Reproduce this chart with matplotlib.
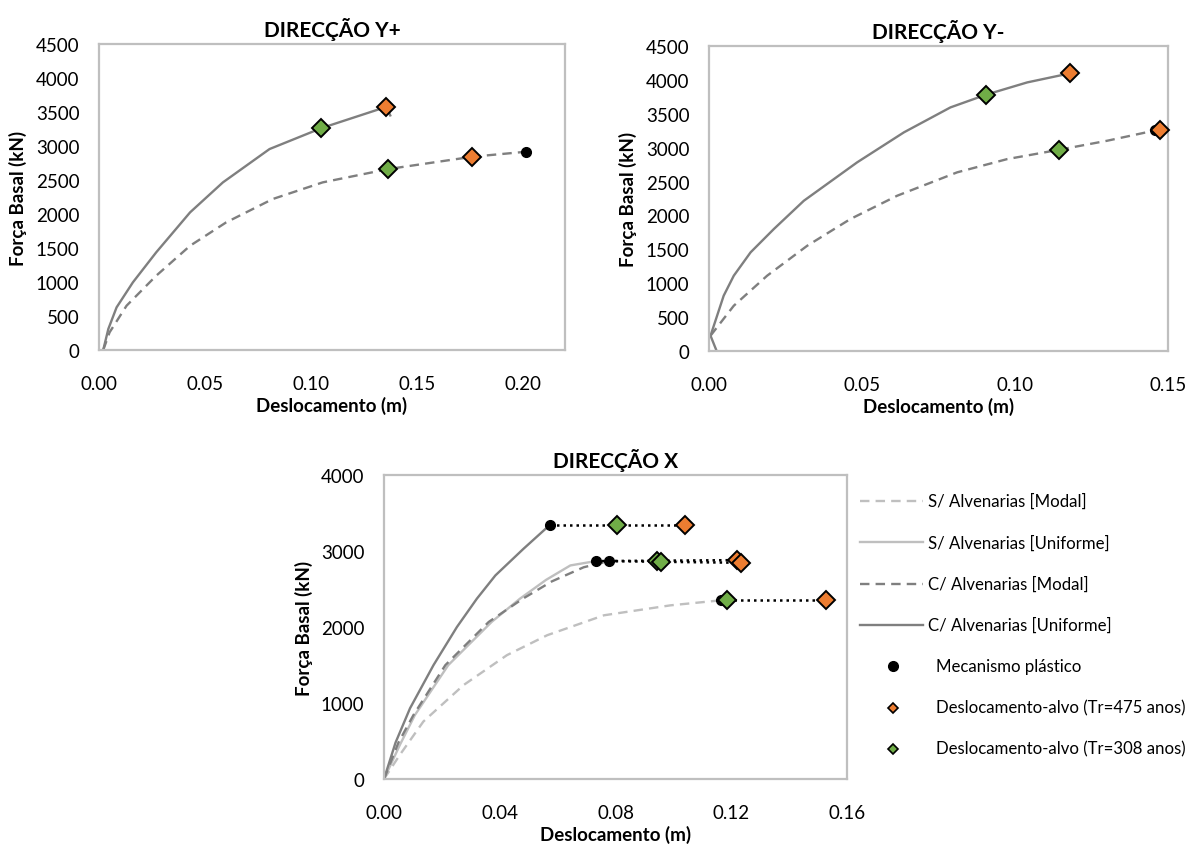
import matplotlib
matplotlib.use("Agg")
import matplotlib.pyplot as plt

plt.rcParams['font.family'] = ['Lato', 'DejaVu Sans']

# ---------------- DATA ----------------
# Direcção Y+
yp_unif_x = [0.002, 0.0044, 0.0083, 0.016, 0.027, 0.043, 0.0585, 0.0805, 0.105, 0.1357, 0.1375]
yp_unif_f = [0, 309, 627, 995, 1436, 2024, 2465, 2955, 3263, 3576, 3450]
yp_modal_x = [0.002, 0.005, 0.013, 0.027, 0.043, 0.060, 0.082, 0.1056, 0.1366, 0.1763, 0.2017]
yp_modal_f = [0, 260, 651, 1092, 1533, 1876, 2220, 2465, 2661, 2842, 2916]
yp_mech_x = [0.2017]
yp_mech_f = [2916]
yp_t475_x = [0.1357, 0.1763]
yp_t475_f = [3576, 2842]
yp_t308_x = [0.105, 0.1366]
yp_t308_f = [3263, 2661]

# Direcção Y-
ym_unif_x = [0.0025, 0.0005, 0.0048, 0.0081, 0.0136, 0.0212, 0.031, 0.0484, 0.0637, 0.0789, 0.0905, 0.104, 0.1179]
ym_unif_f = [0, 226, 816, 1111, 1456, 1800, 2217, 2783, 3226, 3594, 3781, 3963, 4096]
ym_modal_x = [0.0005, 0.0081, 0.019, 0.0321, 0.0462, 0.0615, 0.0811, 0.0975, 0.1144, 0.1301, 0.1459]
ym_modal_f = [226, 668, 1111, 1553, 1947, 2291, 2636, 2832, 2969, 3102, 3255]
ym_mech_x = [0.1459]
ym_mech_f = [3255]
ym_t475_x = [0.1179, 0.1475]
ym_t475_f = [4096, 3255]
ym_t308_x = [0.0905, 0.1144]
ym_t308_f = [3781, 2969]

# Direcção X
x_smodal_x = [0, 0.0055, 0.0136, 0.0275, 0.0425, 0.0564, 0.076, 0.099, 0.1164]
x_smodal_f = [0, 319, 756, 1236, 1630, 1892, 2154, 2285, 2351]
x_sunif_x = [0, 0.0055, 0.0107, 0.0222, 0.0372, 0.0470, 0.0560, 0.0644, 0.0731]
x_sunif_f = [0, 450, 843, 1498, 2067, 2373, 2620, 2810, 2867]
x_cmodal_x = [0, 0.005, 0.0102, 0.0212, 0.0362, 0.048, 0.058, 0.069, 0.0778]
x_cmodal_f = [0, 480, 843, 1498, 2067, 2373, 2600, 2786, 2867]
x_cunif_x = [0, 0.004, 0.009, 0.0171, 0.0252, 0.0321, 0.0385, 0.0482, 0.0572]
x_cunif_f = [0, 480, 931, 1498, 2000, 2373, 2679, 3029, 3339]
# order: S/Modal, S/Unif, C/Modal, C/Unif
x_mech_x = [0.1164, 0.0731, 0.0778, 0.0572]
x_mech_f = [2351, 2867, 2867, 3339]
x_t308_x = [0.1185, 0.0945, 0.0956, 0.0806]
x_t308_f = [2351, 2867, 2854, 3339]
x_t475_x = [0.1527, 0.1221, 0.1233, 0.1040]
x_t475_f = [2351, 2880, 2845, 3339]

legend_labels = ["S/ Alvenarias [Modal]", "S/ Alvenarias [Uniforme]", "C/ Alvenarias [Modal]",
                 "C/ Alvenarias [Uniforme]", "Mecanismo plástico",
                 "Deslocamento-alvo (Tr=475 anos)", "Deslocamento-alvo (Tr=308 anos)"]

# ---------------- STYLE ----------------
DARK = '#7F7F7F'
LIGHT = '#BFBFBF'
GREEN = '#70AD47'
ORANGE = '#ED7D31'
SPINE = '#BFBFBF'
LW = 1.7
DASH = (4, 2.6)
TICK_FS = 13.5
LAB_FS = 13.5
TITLE_FS = 15
LEG_FS = 12.1
W, H = 1192, 845

fig = plt.figure(figsize=(W / 100, H / 100), dpi=100)


def px_axes(l, t, r, b):
    return fig.add_axes([l / W, 1 - b / H, (r - l) / W, (b - t) / H])


def style(ax, title, xlim, xt, xfmt, ylim, yt):
    ax.set_xlim(*xlim)
    ax.set_ylim(*ylim)
    ax.set_xticks(xt)
    ax.set_xticklabels([xfmt.format(v) for v in xt])
    ax.set_yticks(yt)
    ax.set_yticklabels([str(v) for v in yt])
    ax.tick_params(length=0, labelsize=TICK_FS, colors='black')
    ax.tick_params(axis='x', pad=18)
    ax.tick_params(axis='y', pad=14)
    for s in ax.spines.values():
        s.set_color(SPINE)
        s.set_linewidth(1.6)
    ax.set_title(title, fontsize=TITLE_FS, fontweight='bold', pad=6)
    ax.set_xlabel('Deslocamento (m)', fontsize=LAB_FS, fontweight='bold', labelpad=3)
    ax.set_ylabel('Força Basal (kN)', fontsize=LAB_FS, fontweight='bold', labelpad=6)


def targets(ax, mx, mf, t308x, t308f, t475x, t475f):
    ax.plot(mx, mf, 'o', color='black', ms=7, zorder=5, clip_on=False)
    ax.plot(t308x, t308f, 'D', color=GREEN, mec='black', mew=1.4, ms=9, zorder=6, clip_on=False)
    ax.plot(t475x, t475f, 'D', color=ORANGE, mec='black', mew=1.4, ms=9, zorder=6, clip_on=False)


# ---- Y+ ----
ax1 = px_axes(99, 45, 565, 351)
ax1.plot(yp_unif_x, yp_unif_f, '-', color=DARK, lw=LW)
ax1.plot(yp_modal_x, yp_modal_f, '--', color=DARK, lw=LW, dashes=DASH)
targets(ax1, yp_mech_x, yp_mech_f, yp_t308_x, yp_t308_f, yp_t475_x, yp_t475_f)
style(ax1, 'DIRECÇÃO Y+', (0, 0.22), [0, 0.05, 0.10, 0.15, 0.20], '{:.2f}',
      (0, 4500), list(range(0, 4501, 500)))

# ---- Y- ----
ax2 = px_axes(709, 47, 1168, 352)
ax2.plot(ym_unif_x, ym_unif_f, '-', color=DARK, lw=LW)
ax2.plot(ym_modal_x, ym_modal_f, '--', color=DARK, lw=LW, dashes=DASH)
targets(ax2, ym_mech_x, ym_mech_f, ym_t308_x, ym_t308_f, ym_t475_x, ym_t475_f)
style(ax2, 'DIRECÇÃO Y-', (0, 0.15), [0, 0.05, 0.10, 0.15], '{:.2f}',
      (0, 4500), list(range(0, 4501, 500)))

# ---- X ----
ax3 = px_axes(384, 476, 847, 780)
ax3.plot(x_smodal_x, x_smodal_f, '--', color=LIGHT, lw=LW, dashes=DASH)
ax3.plot(x_sunif_x, x_sunif_f, '-', color=LIGHT, lw=LW)
ax3.plot(x_cmodal_x, x_cmodal_f, '--', color=DARK, lw=LW, dashes=DASH)
ax3.plot(x_cunif_x, x_cunif_f, '-', color=DARK, lw=LW)
for i in range(len(x_mech_x)):
    ax3.plot([x_mech_x[i], x_t475_x[i]], [x_mech_f[i], x_t475_f[i]], color='black',
             lw=1.8, linestyle=(0, (1, 1.6)), zorder=4)
targets(ax3, x_mech_x, x_mech_f, x_t308_x, x_t308_f, x_t475_x, x_t475_f)
style(ax3, 'DIRECÇÃO X', (0, 0.16), [0, 0.04, 0.08, 0.12, 0.16], '{:.2f}',
      (0, 4000), list(range(0, 4001, 1000)))

# ---- legend (manual, pixel coordinates) ----
lg = fig.add_axes([0, 0, 1, 1], zorder=-1)
lg.set_xlim(0, W)
lg.set_ylim(H, 0)
lg.axis('off')
ys = [502 + 41.3 * i for i in range(7)]
styles = [('--', LIGHT), ('-', LIGHT), ('--', DARK), ('-', DARK)]
for i, (ls, c) in enumerate(styles):
    if ls == '--':
        lg.plot([860, 923], [ys[i], ys[i]], ls, color=c, lw=LW, dashes=DASH)
    else:
        lg.plot([860, 923], [ys[i], ys[i]], ls, color=c, lw=LW)
    lg.text(928, ys[i], legend_labels[i], fontsize=LEG_FS, va='center', ha='left')
lg.plot([893], [ys[4]], 'o', color='black', ms=7)
lg.plot([893], [ys[5]], 'D', color=ORANGE, mec='black', mew=1.2, ms=5.5)
lg.plot([893], [ys[6]], 'D', color=GREEN, mec='black', mew=1.2, ms=5.5)
for i in range(4, 7):
    lg.text(936, ys[i], legend_labels[i], fontsize=LEG_FS, va='center', ha='left')

fig.savefig('out.png', dpi=100)
